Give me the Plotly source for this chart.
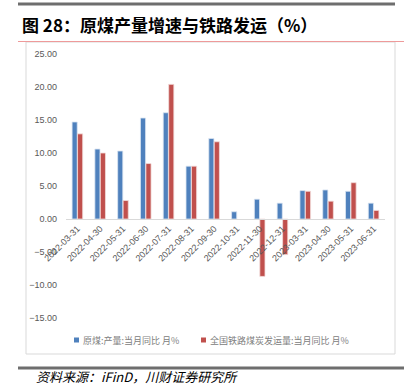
import plotly.graph_objects as go

categories = ["2022-03-31", "2022-04-30", "2022-05-31", "2022-06-30", "2022-07-31",
              "2022-08-31", "2022-09-30", "2022-10-31", "2022-11-30", "2022-12-31",
              "2023-03-31", "2023-04-30", "2023-05-31", "2023-06-31"]
coal_output = [14.7, 10.6, 10.3, 15.3, 16.1, 8.0, 12.2, 1.1, 3.0, 2.4, 4.3, 4.4, 4.2, 2.4]
rail_coal = [12.9, 10.0, 2.8, 8.4, 20.4, 8.0, 11.7, None, -8.7, -5.4, 4.2, 2.7, 5.5, 1.3]
name_output = "原煤:产量:当月同比 月%"
name_rail = "全国铁路煤炭发运量:当月同比 月%"
y_ticks = [25, 20, 15, 10, 5, 0, -5, -10, -15]

BLUE = "#4F81BD"
RED = "#C0504D"

W, H = 415, 392
L, R, T, B = 66, 385, 54, 318  # plot area in pixels


def px(x):
    return (x - L) / (R - L)


def py(y):
    return (B - y) / (B - T)


fig = go.Figure()
fig.add_trace(go.Bar(x=categories, y=coal_output, name=name_output,
                     marker=dict(color=BLUE, line=dict(color="#DCE6F2", width=0.8)),
                     showlegend=False))
fig.add_trace(go.Bar(x=categories, y=rail_coal, name=name_rail,
                     marker=dict(color=RED, line=dict(color="#F2DCDB", width=0.8)),
                     showlegend=False))

ymin, ymax = -15, 25
zero_pos = (0 - ymin) / (ymax - ymin)

fig.update_layout(
    width=W, height=H,
    margin=dict(l=L, r=W - R, t=T, b=H - B),
    paper_bgcolor="white", plot_bgcolor="white",
    barmode="group", bargap=0.52, bargroupgap=0.06,
    font=dict(family="Liberation Sans, Arial, sans-serif", color="#595959", size=9),
    xaxis=dict(type="category", anchor="free", position=zero_pos, showline=True,
               linecolor="#D9D9D9", linewidth=1, ticks="", showgrid=False,
               tickangle=-45, tickfont=dict(size=9, color="#595959")),
    yaxis=dict(range=[ymin, ymax], tickvals=y_ticks, tickformat=".2f",
               showgrid=False, zeroline=False, showline=False, ticks="",
               ticklabelstandoff=8, tickfont=dict(size=9, color="#595959")),
)

shapes = []
# top title rule
shapes.append(dict(type="line", xref="paper", yref="paper", x0=px(18), x1=px(395),
                   y0=py(4), y1=py(4), line=dict(color="#6E6E6E", width=3)))
# chart frame
shapes.append(dict(type="rect", xref="paper", yref="paper", x0=px(26), x1=px(395),
                   y0=py(354), y1=py(42), line=dict(color="#D9D9D9", width=1)))
# red top rule
shapes.append(dict(type="line", xref="paper", yref="paper", x0=px(18), x1=px(404),
                   y0=py(41.5), y1=py(41.5), line=dict(color="#EE9A9A", width=1)))
# bottom rule
shapes.append(dict(type="line", xref="paper", yref="paper", x0=px(18), x1=px(404),
                   y0=py(368), y1=py(368), line=dict(color="#6E6E6E", width=3)))
# legend markers
shapes.append(dict(type="rect", xref="paper", yref="paper", x0=px(74), x1=px(79),
                   y0=py(342.5), y1=py(337.5), fillcolor=BLUE, line=dict(width=0)))
shapes.append(dict(type="rect", xref="paper", yref="paper", x0=px(201), x1=px(206),
                   y0=py(342.5), y1=py(337.5), fillcolor=RED, line=dict(width=0)))
fig.update_layout(shapes=shapes)

annotations = [
    dict(text="<b>图 28：原煤产量增速与铁路发运（%）</b>", xref="paper", yref="paper",
         x=px(20), y=py(25), xanchor="left", yanchor="middle", showarrow=False,
         font=dict(family="Noto Sans CJK SC", size=17, color="#000000")),
    dict(text=name_output, xref="paper", yref="paper", x=px(81), y=py(340),
         xanchor="left", yanchor="middle", showarrow=False,
         font=dict(family="Noto Sans CJK SC", size=9, color="#808080")),
    dict(text=name_rail, xref="paper", yref="paper", x=px(208), y=py(340),
         xanchor="left", yanchor="middle", showarrow=False,
         font=dict(family="Noto Sans CJK SC", size=9, color="#808080")),
    dict(text="<i>资料来源：iFinD，川财证券研究所</i>", xref="paper", yref="paper",
         x=px(34), y=py(376), xanchor="left", yanchor="middle", showarrow=False,
         font=dict(family="Noto Sans CJK SC", size=13, color="#000000")),
]
fig.update_layout(annotations=annotations)

fig.write_html("out.html", config={"displayModeBar": False},
               post_script="document.body.style.margin='0';document.body.style.overflow='hidden';")
